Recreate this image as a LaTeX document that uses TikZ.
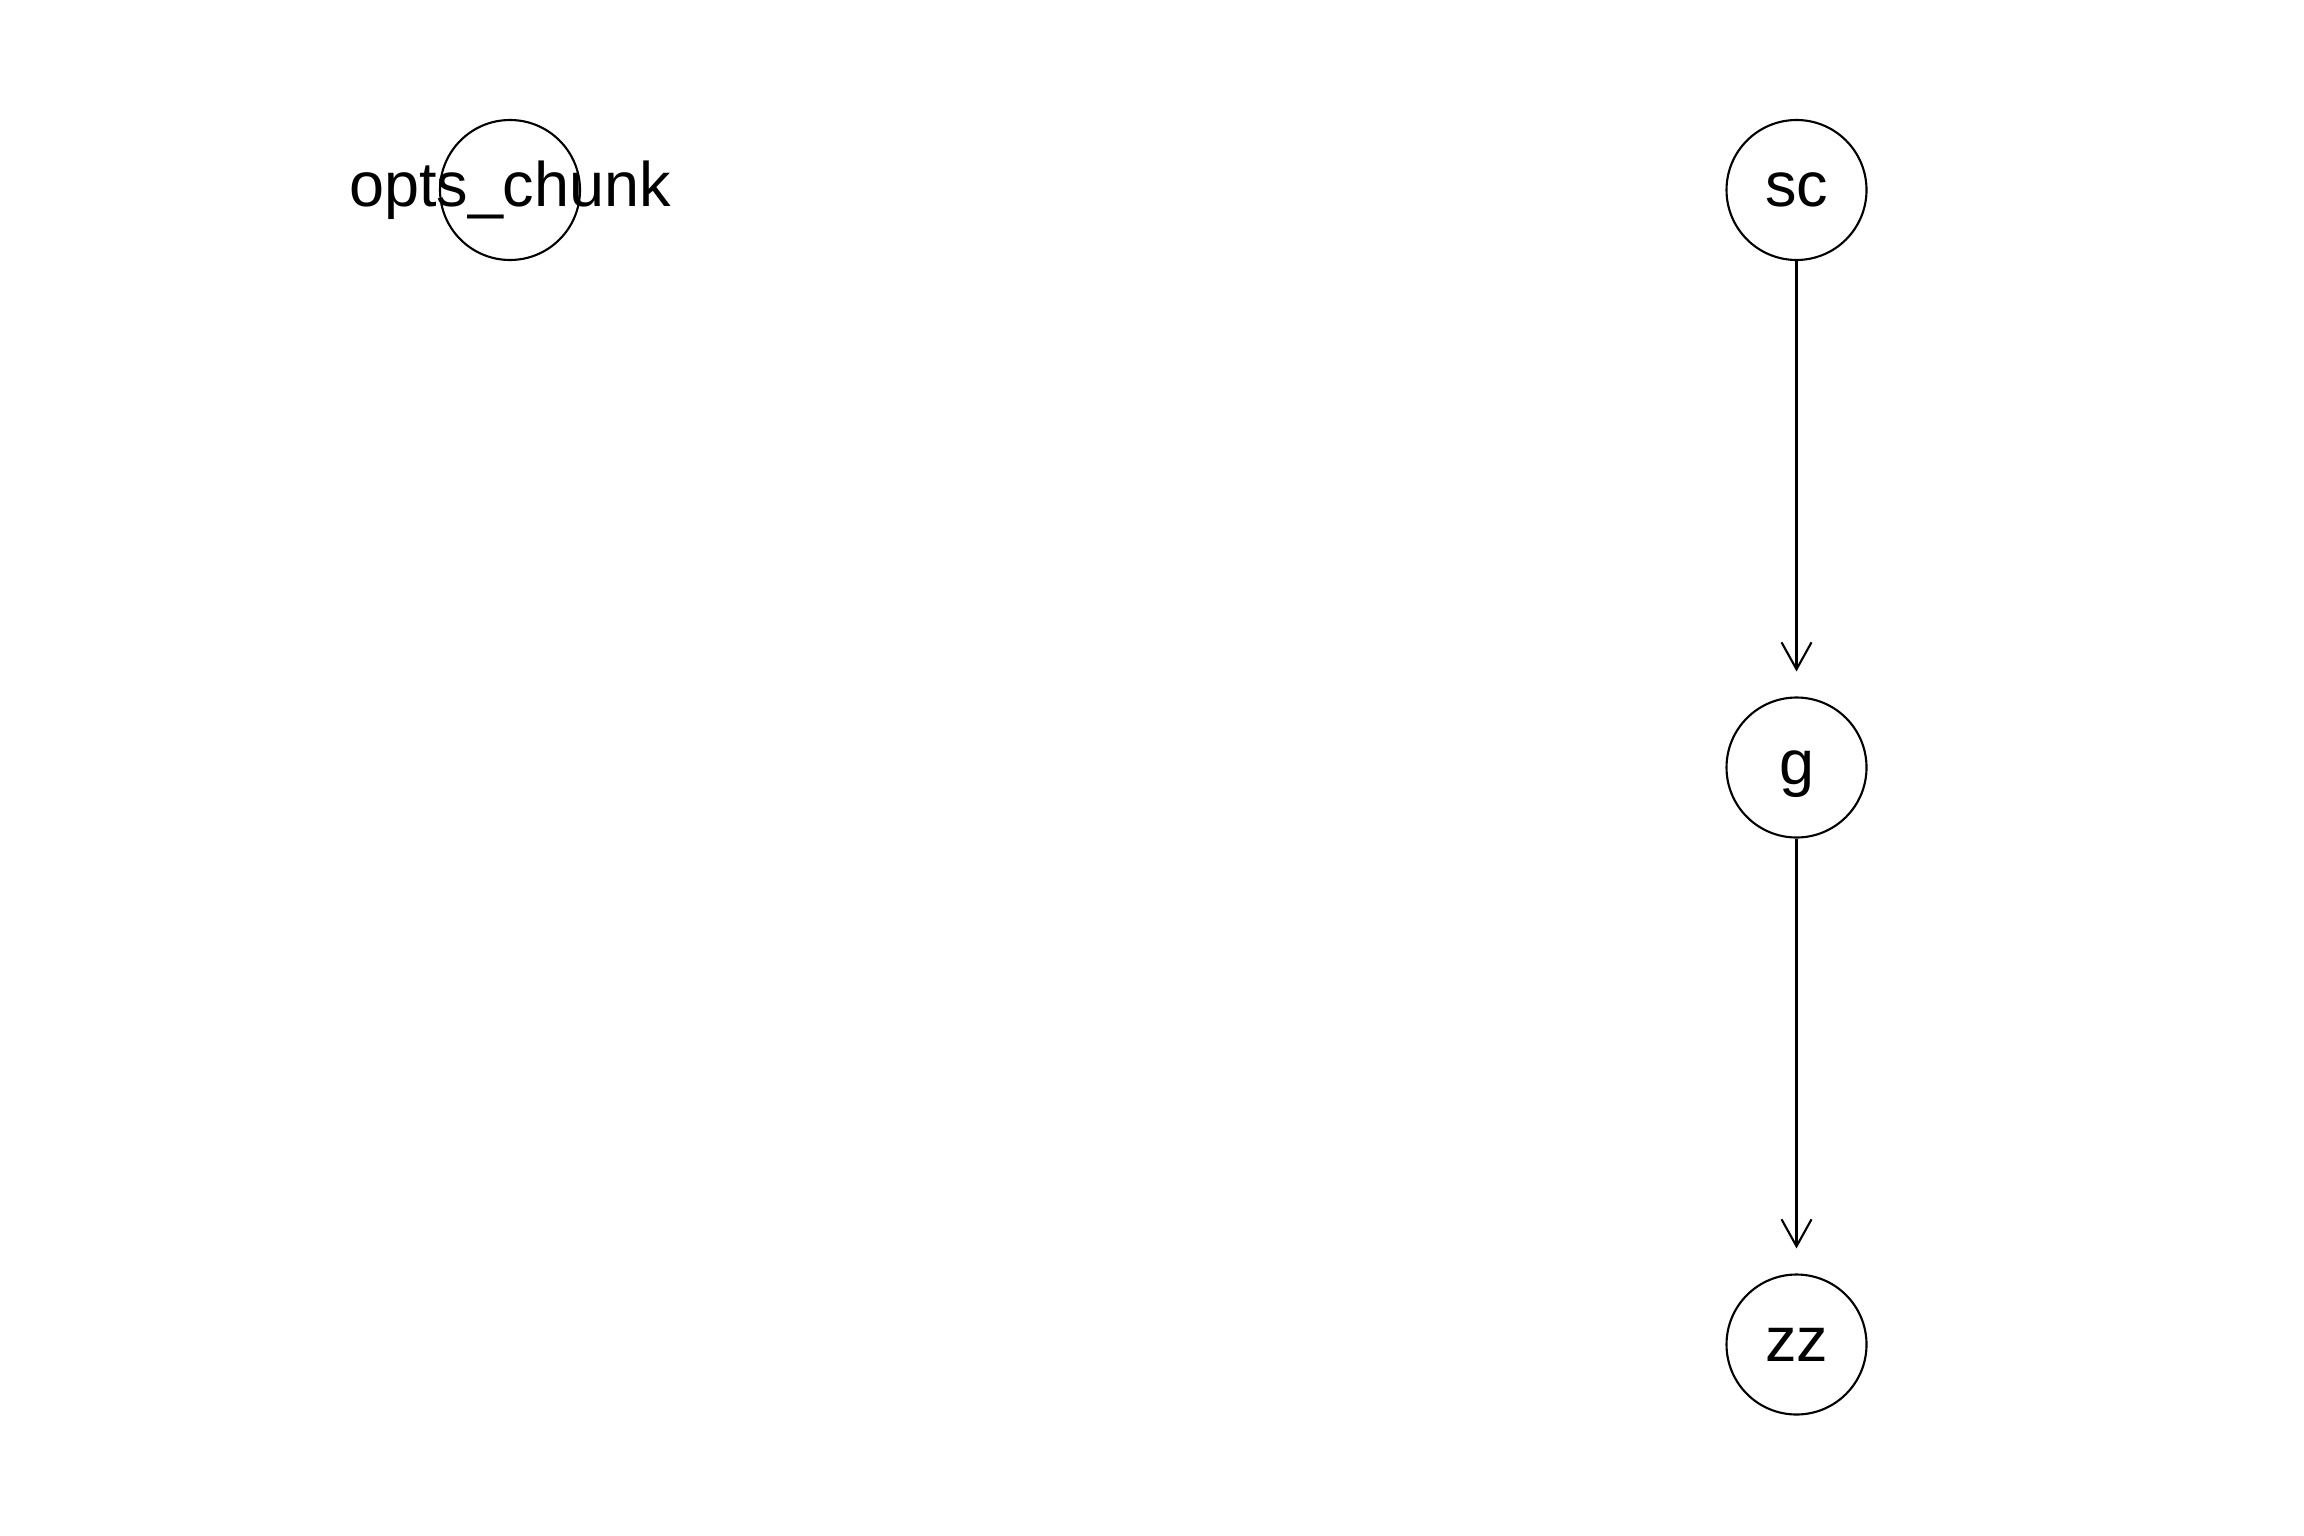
\documentclass[tikz,border=0pt]{standalone}
\usepackage{fontspec}
\setmainfont{Liberation Sans}
\usetikzlibrary{arrows.meta}
\begin{document}
\begin{tikzpicture}[
  vertex/.style={circle, draw=black, line width=0.6pt, minimum size=1.40cm, inner sep=0pt},
  vlabel/.style={inner sep=0pt, text height=0.33cm, text depth=0pt, font=\fontsize{17.9}{20}\selectfont},
  edgearrow/.style={line width=0.6pt, -{Straight Barb[length=0.27cm, width=0.30cm, line width=0.6pt]}, shorten >=0.25cm}
]
\useasboundingbox (0,0) rectangle (23.04,-15.36);
\node[vertex] (opts) at (5.10,-1.90) {};
\node[vertex] (sc) at (17.965,-1.90) {};
\node[vertex] (g) at (17.965,-7.675) {};
\node[vertex] (zz) at (17.965,-13.445) {};
\node[vlabel] (optsl) at (opts.center) {opts\_chunk};
\node[vlabel] (scl) at (sc.center) {sc};
\node[vlabel] (gl) at (g.center) {g};
\node[vlabel] (zzl) at (zz.center) {zz};
\draw[edgearrow] (sc) -- (g);
\draw[edgearrow] (g) -- (zz);
\end{tikzpicture}
\end{document}
